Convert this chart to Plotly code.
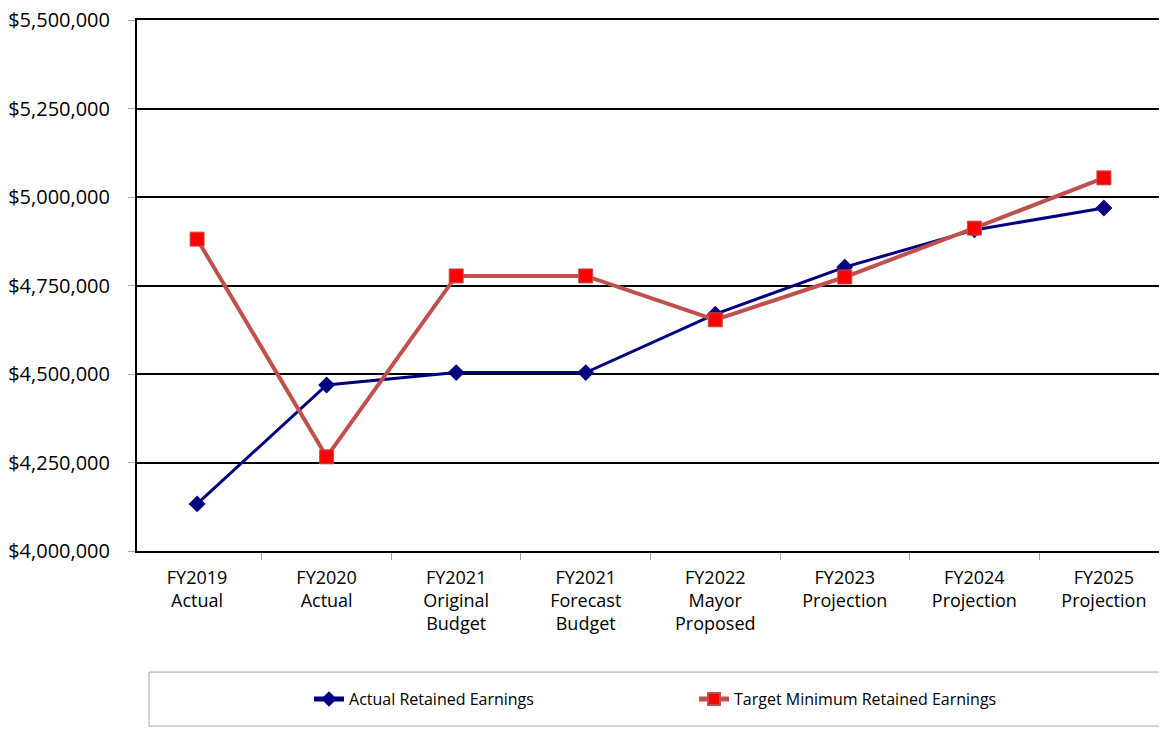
import plotly.graph_objects as go

# Data
categories = [
    "FY2019<br>Actual", "FY2020<br>Actual", "FY2021<br>Original<br>Budget",
    "FY2021<br>Forecast<br>Budget", "FY2022<br>Mayor<br>Proposed",
    "FY2023<br>Projection", "FY2024<br>Projection", "FY2025<br>Projection",
]
actual_retained = [4133000, 4469000, 4504000, 4504000, 4669000, 4802000, 4907000, 4969000]
target_minimum = [4881000, 4266000, 4777000, 4777000, 4653000, 4774000, 4912000, 5054000]

fig = go.Figure()

fig.add_trace(go.Scatter(
    x=categories, y=actual_retained, name="Actual Retained Earnings",
    mode="lines+markers",
    line=dict(color="#000080", width=3),
    marker=dict(symbol="diamond", size=13, color="#000080"),
))
fig.add_trace(go.Scatter(
    x=categories, y=target_minimum, name="Target Minimum Retained Earnings",
    mode="lines+markers",
    line=dict(color="#C0504D", width=4),
    marker=dict(symbol="square", size=14, color="#FF0000",
                line=dict(color="#C0504D", width=1)),
))

# legend box drawn as a shape so it can be wider than the entries
fig.add_shape(type="rect", xref="paper", yref="paper",
              x0=0.0117, x1=0.996, y0=-0.3296, y1=-0.228,
              line=dict(color="#A6A6A6", width=1), fillcolor="white", layer="below")

# title sits above the visible area, only the tail of the descender shows
fig.add_annotation(text="<b>Retained Earnings</b>", xref="paper", yref="paper",
                   x=0.5, y=1.021, xanchor="center", yanchor="bottom",
                   showarrow=False, font=dict(size=22, color="black"))

# page body has an 8px margin, so the figure is 8px smaller each way
fig.update_layout(
    width=1159, height=724,
    margin=dict(l=129, r=3, t=12, b=181, autoexpand=False),
    paper_bgcolor="white", plot_bgcolor="white",
    font=dict(family="Open Sans", size=18, color="black"),
    showlegend=True,
    legend=dict(orientation="h", x=0.1675, xanchor="left", y=-0.279, yanchor="middle",
                font=dict(size=16), entrywidth=340, itemsizing="constant",
                bgcolor="rgba(0,0,0,0)"),
)

fig.update_xaxes(
    type="category", tickson="boundaries", automargin=False,
    showline=True, linecolor="black", linewidth=2, mirror=True,
    ticks="outside", ticklen=7, tickcolor="#A6A6A6",
    ticklabelstandoff=9,
    showgrid=False,
)
fig.update_yaxes(
    range=[4000000, 5500000], dtick=250000, automargin=False,
    tickprefix="$", tickformat=",d", tickfont=dict(size=20),
    ticklabeloverflow="allow", ticklabelstandoff=14,
    showline=True, linecolor="black", linewidth=2, mirror=True,
    ticks="outside", ticklen=7, tickcolor="#A6A6A6",
    showgrid=True, gridcolor="black", gridwidth=2,
    zeroline=False,
)

fig.write_html("out.html")
